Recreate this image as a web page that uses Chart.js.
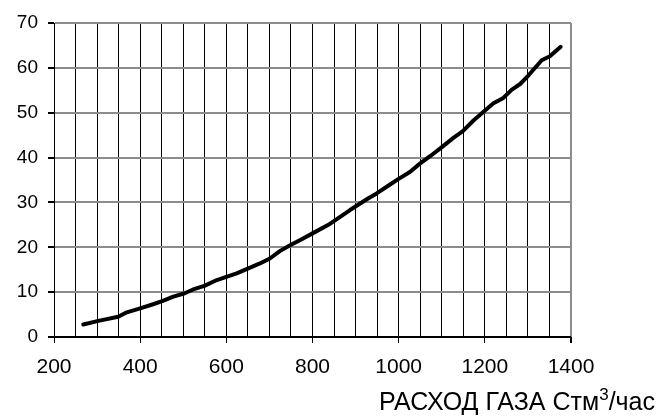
<!DOCTYPE html>
<html lang="ru">
<head>
  <meta charset="UTF-8" />
  <title>Расход газа</title>
  <script src="https://cdn.jsdelivr.net/npm/chart.js"></script>
  <style>
    html, body { margin: 0; padding: 0; background: #fff; }
    #wrap { width: 665px; height: 416px; }
  </style>
</head>
<body>
  <div id="wrap"><canvas id="gasChart" width="665" height="416"></canvas></div>

  <script>
    // values
    const gasFlow = [268, 303, 349, 369, 400, 430, 451, 477, 502, 523, 549, 578, 600, 624, 651, 678, 701, 725, 749, 775, 800, 837, 887, 926, 949, 980, 999, 1026, 1050, 1073, 1101, 1127, 1149, 1173, 1199, 1220, 1243, 1262, 1282, 1302, 1332, 1351, 1376];
    const yValues = [2.8, 3.6, 4.5, 5.5, 6.4, 7.3, 8.0, 9.0, 9.7, 10.6, 11.4, 12.7, 13.4, 14.2, 15.3, 16.4, 17.5, 19.2, 20.5, 21.8, 23.1, 25.0, 28.3, 30.7, 32.0, 34.0, 35.2, 36.8, 38.7, 40.3, 42.4, 44.4, 45.9, 48.2, 50.4, 52.1, 53.3, 55.1, 56.4, 58.4, 61.7, 62.6, 64.7];
    const xLabelStep = 200;
    const axisTitle = ['РАСХОД ГАЗА Стм', '3', '/час'];

    const points = gasFlow.map((x, i) => ({ x: x, y: yValues[i] }));

    // x axis caption with a raised "3"
    const captionPlugin = {
      id: 'caption',
      afterDraw(chart) {
        const ctx = chart.ctx;
        const big = '25px "Liberation Sans", Arial, sans-serif';
        const small = '17px "Liberation Sans", Arial, sans-serif';
        ctx.save();
        ctx.fillStyle = '#000';
        ctx.textBaseline = 'alphabetic';
        ctx.font = big;
        const w1 = ctx.measureText(axisTitle[0]).width;
        const w3 = ctx.measureText(axisTitle[2]).width;
        ctx.font = small;
        const w2 = ctx.measureText(axisTitle[1]).width;
        const right = 655, base = 410;
        let x = right - w1 - w2 - w3;
        ctx.font = big;
        ctx.fillText(axisTitle[0], x, base);
        x += w1;
        ctx.font = small;
        ctx.fillText(axisTitle[1], x, base - 10);
        x += w2;
        ctx.font = big;
        ctx.fillText(axisTitle[2], x, base);
        ctx.restore();
      }
    };

    new Chart(document.getElementById('gasChart'), {
      type: 'line',
      data: {
        datasets: [{
          data: points,
          borderColor: '#000',
          borderWidth: 4,
          borderCapStyle: 'round',
          borderJoinStyle: 'round',
          pointRadius: 0,
          tension: 0,
          fill: false
        }]
      },
      options: {
        responsive: false,
        animation: false,
        layout: { padding: { left: 0, right: 94, top: 23, bottom: 0 } },
        plugins: { legend: { display: false }, tooltip: { enabled: false } },
        scales: {
          x: {
            type: 'linear',
            min: 200,
            max: 1400,
            afterFit: s => { s.height = 79; },
            border: { color: '#000', width: 1 },
            grid: {
              color: c => c.tick && c.tick.value === 1400 ? '#8c8c8c' : '#000',
              lineWidth: c => c.tick && c.tick.value === 1400 ? 2 : 1,
              tickLength: 6,
              tickColor: c => c.tick && c.tick.value % xLabelStep === 0 ? '#000' : 'rgba(0,0,0,0)'
            },
            ticks: {
              stepSize: 50,
              autoSkip: false,
              maxRotation: 0,
              padding: 12,
              color: '#000',
              font: { family: '"Liberation Sans", Arial, sans-serif', size: 21 },
              callback: v => v % xLabelStep === 0 ? v : ''
            }
          },
          y: {
            min: 0,
            max: 70,
            afterFit: s => { s.width = 54; },
            border: { color: '#000', width: 1 },
            grid: {
              color: c => c.tick && c.tick.value === 0 ? '#000' : '#8c8c8c',
              lineWidth: 2,
              tickLength: 6,
              tickColor: '#000'
            },
            ticks: {
              stepSize: 10,
              padding: 10,
              color: '#000',
              font: { family: '"Liberation Sans", Arial, sans-serif', size: 19 }
            }
          }
        }
      },
      plugins: [captionPlugin]
    });
  </script>
</body>
</html>
